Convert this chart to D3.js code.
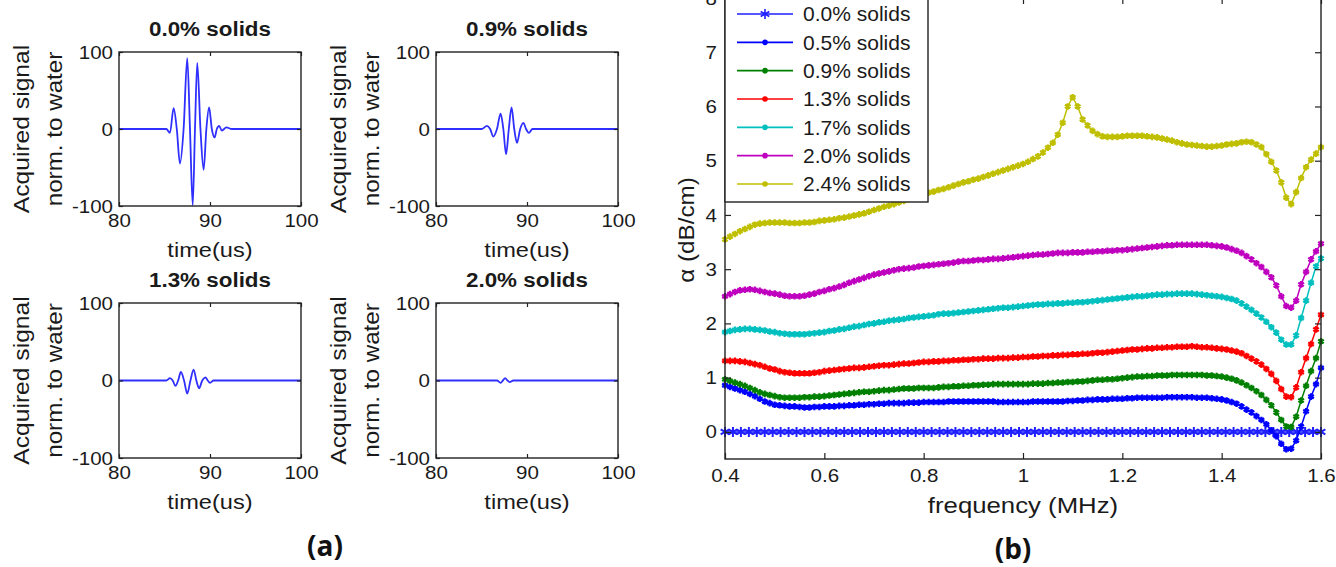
<!DOCTYPE html>
<html>
<head>
<meta charset="utf-8">
<script src="https://cdn.jsdelivr.net/npm/d3@7"></script>
<style>
  body { margin: 0; background: #fff; }
  svg { display: block; font-family: "Liberation Sans", Arial, sans-serif; }
</style>
</head>
<body>
<div id="chart"></div>
<script>
// ---------- panel (a): acquired signal normalised to water ----------
const waveTitles = ["0.0% solids", "0.9% solids", "1.3% solids", "2.0% solids"];
const waveXTicks = [80, 90, 100];
const waveYTicks = [-100, 0, 100];

const waveTime00 = [80, 85.2, 85.6, 86.0, 86.35, 86.7, 87.1, 87.5, 87.8, 88.1, 88.35, 88.6, 88.95, 89.3, 89.6, 89.9, 90.2, 90.5, 90.75, 91.0, 91.3, 91.8, 92.4, 100];
const waveSig00  = [0, 0, -5, 27, 0, -45, 0, 92, 0, -99, 0, 86, 0, -53, 0, 28, 0, -11, 0, 4, -2, 2, 0, 0];

const waveTime09 = [80, 85.05, 85.6, 85.95, 86.3, 86.7, 87.1, 87.4, 87.7, 88.0, 88.3, 88.6, 88.9, 89.25, 89.6, 89.9, 90.2, 90.6, 100];
const waveSig09  = [0, 0, 4, 0, -10, 0, 20, 0, -33, 0, 28, 0, -18, 0, 8, 0, -5, 0, 0];

const waveTime13 = [80, 85.2, 85.6, 85.9, 86.2, 86.5, 86.8, 87.15, 87.5, 87.85, 88.2, 88.5, 88.8, 89.15, 89.5, 89.75, 90.0, 90.4, 100];
const waveSig13  = [0, 0, 3, 0, -7, 0, 11, 0, -17, 0, 14, 0, -10, 0, 4, 0, -3, 0, 0];

const waveTime20 = [80, 86.7, 87.1, 87.35, 87.6, 87.85, 88.1, 88.5, 100];
const waveSig20  = [0, 0, -3, 0, 3, 0, -2, 0, 0];

// ---------- panel (b): attenuation vs frequency ----------
const seriesLabels = ["0.0% solids", "0.5% solids", "0.9% solids", "1.3% solids", "1.7% solids", "2.0% solids", "2.4% solids"];
const freqTicks = [0.4, 0.6, 0.8, 1, 1.2, 1.4, 1.6];
const alphaTicks = [0, 1, 2, 3, 4, 5, 6, 7, 8];

const freq = [
  0.40, 0.41, 0.42, 0.43, 0.44, 0.45, 0.46, 0.47, 0.48, 0.49,
  0.50, 0.51, 0.52, 0.53, 0.54, 0.55, 0.56, 0.57, 0.58, 0.59,
  0.60, 0.61, 0.62, 0.63, 0.64, 0.65, 0.66, 0.67, 0.68, 0.69,
  0.70, 0.71, 0.72, 0.73, 0.74, 0.75, 0.76, 0.77, 0.78, 0.79,
  0.80, 0.81, 0.82, 0.83, 0.84, 0.85, 0.86, 0.87, 0.88, 0.89,
  0.90, 0.91, 0.92, 0.93, 0.94, 0.95, 0.96, 0.97, 0.98, 0.99,
  1.00, 1.01, 1.02, 1.03, 1.04, 1.05, 1.06, 1.07, 1.08, 1.09,
  1.10, 1.11, 1.12, 1.13, 1.14, 1.15, 1.16, 1.17, 1.18, 1.19,
  1.20, 1.21, 1.22, 1.23, 1.24, 1.25, 1.26, 1.27, 1.28, 1.29,
  1.30, 1.31, 1.32, 1.33, 1.34, 1.35, 1.36, 1.37, 1.38, 1.39,
  1.40, 1.41, 1.42, 1.43, 1.44, 1.45, 1.46, 1.47, 1.48, 1.49,
  1.50, 1.51, 1.52, 1.53, 1.54, 1.55, 1.56, 1.57, 1.58, 1.59,
  1.60];

// the 0.0% curve was sampled on a coarser grid
const freq00 = [
  0.400, 0.416, 0.432, 0.448, 0.464, 0.480, 0.496, 0.512, 0.528, 0.544,
  0.560, 0.576, 0.592, 0.608, 0.624, 0.640, 0.656, 0.672, 0.688, 0.704,
  0.720, 0.736, 0.752, 0.768, 0.784, 0.800, 0.816, 0.832, 0.848, 0.864,
  0.880, 0.896, 0.912, 0.928, 0.944, 0.960, 0.976, 0.992, 1.008, 1.024,
  1.040, 1.056, 1.072, 1.088, 1.104, 1.120, 1.136, 1.152, 1.168, 1.184,
  1.200, 1.216, 1.232, 1.248, 1.264, 1.280, 1.296, 1.312, 1.328, 1.344,
  1.360, 1.376, 1.392, 1.408, 1.424, 1.440, 1.456, 1.472, 1.488, 1.504,
  1.520, 1.536, 1.552, 1.568, 1.584, 1.600];
const alpha00 = [
  0, 0, 0, 0, 0, 0, 0, 0, 0, 0,
  0, 0, 0, 0, 0, 0, 0, 0, 0, 0,
  0, 0, 0, 0, 0, 0, 0, 0, 0, 0,
  0, 0, 0, 0, 0, 0, 0, 0, 0, 0,
  0, 0, 0, 0, 0, 0, 0, 0, 0, 0,
  0, 0, 0, 0, 0, 0, 0, 0, 0, 0,
  0, 0, 0, 0, 0, 0, 0, 0, 0, 0,
  0, 0, 0, 0, 0, 0];

const alpha05 = [
  0.86, 0.83, 0.80, 0.77, 0.74, 0.70, 0.66, 0.61, 0.56, 0.53,
  0.50, 0.49, 0.48, 0.47, 0.47, 0.46, 0.45, 0.45, 0.46, 0.46,
  0.47, 0.47, 0.47, 0.48, 0.48, 0.49, 0.49, 0.50, 0.50, 0.51,
  0.51, 0.52, 0.52, 0.53, 0.53, 0.53, 0.53, 0.54, 0.54, 0.54,
  0.55, 0.55, 0.55, 0.55, 0.55, 0.56, 0.56, 0.56, 0.56, 0.56,
  0.56, 0.56, 0.56, 0.56, 0.56, 0.55, 0.55, 0.55, 0.55, 0.55,
  0.55, 0.55, 0.56, 0.56, 0.56, 0.56, 0.56, 0.56, 0.56, 0.57,
  0.57, 0.58, 0.58, 0.59, 0.59, 0.60, 0.60, 0.60, 0.61, 0.61,
  0.61, 0.62, 0.62, 0.63, 0.63, 0.63, 0.63, 0.63, 0.63, 0.64,
  0.64, 0.64, 0.64, 0.64, 0.64, 0.63, 0.63, 0.63, 0.62, 0.61,
  0.60, 0.58, 0.55, 0.52, 0.47, 0.41, 0.36, 0.29, 0.22, 0.14,
  0.03, -0.08, -0.22, -0.32, -0.31, -0.16, 0.10, 0.38, 0.65, 0.88,
  1.18];

const alpha09 = [
  0.97, 0.94, 0.91, 0.88, 0.85, 0.81, 0.77, 0.73, 0.70, 0.68,
  0.66, 0.64, 0.63, 0.63, 0.63, 0.63, 0.64, 0.64, 0.65, 0.65,
  0.66, 0.67, 0.68, 0.69, 0.70, 0.71, 0.72, 0.73, 0.74, 0.74,
  0.75, 0.76, 0.77, 0.77, 0.78, 0.79, 0.80, 0.80, 0.80, 0.81,
  0.81, 0.81, 0.81, 0.82, 0.83, 0.83, 0.84, 0.84, 0.85, 0.85,
  0.86, 0.86, 0.87, 0.87, 0.88, 0.88, 0.88, 0.88, 0.88, 0.88,
  0.88, 0.88, 0.89, 0.89, 0.89, 0.90, 0.90, 0.91, 0.91, 0.92,
  0.92, 0.93, 0.93, 0.94, 0.95, 0.96, 0.96, 0.97, 0.97, 0.98,
  0.99, 1.00, 1.01, 1.02, 1.02, 1.03, 1.03, 1.04, 1.04, 1.04,
  1.05, 1.05, 1.05, 1.05, 1.05, 1.05, 1.05, 1.04, 1.04, 1.03,
  1.02, 1.00, 0.98, 0.95, 0.91, 0.86, 0.81, 0.75, 0.68, 0.59,
  0.49, 0.36, 0.22, 0.10, 0.09, 0.28, 0.58, 0.85, 1.12, 1.36,
  1.67];

const alpha13 = [
  1.31, 1.31, 1.31, 1.30, 1.29, 1.27, 1.25, 1.23, 1.20, 1.17,
  1.15, 1.12, 1.10, 1.09, 1.08, 1.08, 1.08, 1.08, 1.09, 1.10,
  1.12, 1.13, 1.14, 1.15, 1.16, 1.17, 1.18, 1.18, 1.19, 1.20,
  1.21, 1.22, 1.23, 1.23, 1.24, 1.25, 1.26, 1.26, 1.27, 1.28,
  1.29, 1.29, 1.30, 1.30, 1.31, 1.31, 1.32, 1.32, 1.33, 1.33,
  1.34, 1.34, 1.35, 1.35, 1.35, 1.36, 1.36, 1.36, 1.37, 1.37,
  1.38, 1.38, 1.39, 1.39, 1.40, 1.40, 1.41, 1.41, 1.42, 1.42,
  1.43, 1.43, 1.44, 1.44, 1.45, 1.46, 1.46, 1.47, 1.48, 1.49,
  1.50, 1.51, 1.52, 1.52, 1.53, 1.54, 1.54, 1.55, 1.55, 1.56,
  1.56, 1.57, 1.57, 1.57, 1.58, 1.57, 1.56, 1.56, 1.55, 1.54,
  1.53, 1.52, 1.50, 1.48, 1.45, 1.40, 1.35, 1.30, 1.24, 1.16,
  1.07, 0.94, 0.79, 0.65, 0.64, 0.82, 1.10, 1.36, 1.62, 1.89,
  2.16];

const alpha17 = [
  1.84, 1.86, 1.88, 1.89, 1.90, 1.90, 1.89, 1.88, 1.87, 1.85,
  1.84, 1.82, 1.81, 1.80, 1.80, 1.80, 1.80, 1.81, 1.82, 1.83,
  1.84, 1.86, 1.87, 1.89, 1.90, 1.92, 1.94, 1.95, 1.97, 1.99,
  2.00, 2.02, 2.03, 2.05, 2.06, 2.07, 2.08, 2.10, 2.11, 2.12,
  2.13, 2.14, 2.15, 2.17, 2.18, 2.18, 2.19, 2.20, 2.21, 2.22,
  2.23, 2.24, 2.25, 2.26, 2.27, 2.28, 2.29, 2.29, 2.30, 2.31,
  2.32, 2.33, 2.34, 2.35, 2.35, 2.36, 2.36, 2.37, 2.37, 2.38,
  2.38, 2.39, 2.39, 2.40, 2.41, 2.42, 2.43, 2.44, 2.45, 2.46,
  2.47, 2.48, 2.49, 2.50, 2.50, 2.51, 2.52, 2.53, 2.53, 2.54,
  2.54, 2.55, 2.55, 2.55, 2.55, 2.54, 2.53, 2.52, 2.51, 2.50,
  2.49, 2.47, 2.45, 2.42, 2.37, 2.31, 2.25, 2.18, 2.11, 2.03,
  1.93, 1.83, 1.70, 1.61, 1.61, 1.78, 2.10, 2.42, 2.75, 3.05,
  3.20];

const alpha20 = [
  2.50, 2.54, 2.58, 2.61, 2.62, 2.63, 2.62, 2.60, 2.58, 2.56,
  2.55, 2.53, 2.51, 2.50, 2.50, 2.50, 2.51, 2.53, 2.55, 2.58,
  2.60, 2.63, 2.65, 2.68, 2.71, 2.75, 2.78, 2.81, 2.84, 2.87,
  2.90, 2.92, 2.94, 2.96, 2.98, 3.00, 3.01, 3.02, 3.03, 3.05,
  3.06, 3.07, 3.08, 3.09, 3.10, 3.11, 3.12, 3.14, 3.15, 3.15,
  3.16, 3.17, 3.17, 3.18, 3.19, 3.19, 3.20, 3.21, 3.22, 3.23,
  3.24, 3.25, 3.26, 3.27, 3.27, 3.28, 3.29, 3.30, 3.30, 3.30,
  3.31, 3.31, 3.31, 3.32, 3.32, 3.33, 3.33, 3.34, 3.34, 3.35,
  3.35, 3.36, 3.37, 3.38, 3.39, 3.40, 3.41, 3.42, 3.43, 3.44,
  3.44, 3.45, 3.45, 3.45, 3.45, 3.45, 3.45, 3.45, 3.44, 3.43,
  3.42, 3.40, 3.37, 3.34, 3.30, 3.24, 3.18, 3.11, 3.04, 2.95,
  2.85, 2.70, 2.50, 2.32, 2.29, 2.42, 2.72, 2.95, 3.18, 3.33,
  3.47];

const alpha24 = [
  3.55, 3.60, 3.65, 3.70, 3.74, 3.78, 3.82, 3.84, 3.85, 3.86,
  3.86, 3.86, 3.86, 3.85, 3.85, 3.85, 3.86, 3.86, 3.87, 3.89,
  3.90, 3.91, 3.92, 3.94, 3.95, 3.97, 3.99, 4.01, 4.03, 4.06,
  4.09, 4.12, 4.15, 4.17, 4.20, 4.23, 4.26, 4.29, 4.32, 4.35,
  4.38, 4.41, 4.43, 4.46, 4.48, 4.51, 4.54, 4.57, 4.60, 4.62,
  4.65, 4.67, 4.70, 4.73, 4.76, 4.79, 4.82, 4.85, 4.88, 4.91,
  4.94, 4.98, 5.03, 5.08, 5.15, 5.24, 5.33, 5.48, 5.70, 6.00,
  6.17, 6.00, 5.76, 5.65, 5.55, 5.49, 5.45, 5.44, 5.44, 5.44,
  5.45, 5.46, 5.46, 5.46, 5.46, 5.45, 5.44, 5.43, 5.41, 5.39,
  5.37, 5.34, 5.32, 5.30, 5.29, 5.28, 5.27, 5.26, 5.26, 5.27,
  5.28, 5.30, 5.31, 5.32, 5.34, 5.35, 5.34, 5.30, 5.25, 5.12,
  4.98, 4.82, 4.60, 4.32, 4.20, 4.42, 4.68, 4.88, 5.02, 5.13,
  5.25];

// ---------- drawing ----------
const textColor = "#1a1a1a";
const boxColor = "#222";

const svg = d3.select("#chart")
  .append("svg")
  .attr("width", 1336)
  .attr("height", 567);

// widen text along its own direction (the original font runs wide)
function stretch(sel, k) {
  sel.each(function () {
    const w = this.getComputedTextLength();
    d3.select(this).attr("textLength", w * k).attr("lengthAdjust", "spacingAndGlyphs");
  });
}

// draws inward ticks on all four sides and a frame, labels only bottom/left
function drawFrame(g, x, y, xTicks, yTicks, opts) {
  const [x0, x1] = x.range();
  const [y1, y0] = y.range();

  const fmt = d => String(d);

  const bottom = g.append("g")
    .attr("transform", `translate(0,${y1})`)
    .call(d3.axisBottom(x).tickValues(xTicks).tickSize(-opts.tick).tickPadding(opts.padX).tickFormat(fmt));
  const left = g.append("g")
    .attr("transform", `translate(${x0},0)`)
    .call(d3.axisLeft(y).tickValues(yTicks).tickSize(-opts.tick).tickPadding(opts.padY).tickFormat(fmt));
  g.append("g")
    .attr("transform", `translate(0,${y0})`)
    .call(d3.axisTop(x).tickValues(xTicks).tickSize(-opts.tick).tickFormat(""));
  g.append("g")
    .attr("transform", `translate(${x1},0)`)
    .call(d3.axisRight(y).tickValues(yTicks).tickSize(-opts.tick).tickFormat(""));

  g.selectAll(".domain").remove();
  g.selectAll(".tick line").attr("stroke", boxColor).attr("stroke-width", 1.2);

  [bottom, left].forEach(a => {
    a.selectAll("text")
      .attr("fill", textColor)
      .style("font-size", opts.font + "px")
      .style("font-family", '"Liberation Sans", Arial, sans-serif');
    stretch(a.selectAll("text"), 1.08);
  });

  g.append("rect")
    .attr("x", x0).attr("y", y0)
    .attr("width", x1 - x0).attr("height", y1 - y0)
    .attr("fill", "none")
    .attr("stroke", boxColor)
    .attr("stroke-width", 1.4);
}

// ---- panel (a) ----
const waveData = [
  { title: waveTitles[0], t: waveTime00, s: waveSig00 },
  { title: waveTitles[1], t: waveTime09, s: waveSig09 },
  { title: waveTitles[2], t: waveTime13, s: waveSig13 },
  { title: waveTitles[3], t: waveTime20, s: waveSig20 }
];
const waveBoxes = [
  { x0: 119, x1: 301, y0: 52, y1: 206 },
  { x0: 436, x1: 618, y0: 52, y1: 206 },
  { x0: 119, x1: 301, y0: 303, y1: 458 },
  { x0: 436, x1: 618, y0: 303, y1: 458 }
];

waveData.forEach((d, i) => {
  const b = waveBoxes[i];
  const g = svg.append("g");

  const x = d3.scaleLinear().domain([80, 100]).range([b.x0, b.x1]);
  const y = d3.scaleLinear().domain([-100, 100]).range([b.y1, b.y0]);

  const pts = d.t.map((t, j) => [t, d.s[j]]);
  g.append("path")
    .datum(pts)
    .attr("fill", "none")
    .attr("stroke", "#2f2fff")
    .attr("stroke-width", 1.8)
    .attr("d", d3.line().x(p => x(p[0])).y(p => y(p[1])).curve(d3.curveMonotoneX));

  drawFrame(g, x, y, waveXTicks, waveYTicks, { tick: 4, padX: 8, padY: 6, font: 19 });

  const cx = (b.x0 + b.x1) / 2;
  const cy = (b.y0 + b.y1) / 2;

  // title
  const title = g.append("text")
    .attr("x", cx).attr("y", b.y0 - 16)
    .attr("text-anchor", "middle")
    .attr("fill", textColor)
    .style("font-size", "20px")
    .style("font-weight", "bold")
    .text(d.title);
  stretch(title, 1.12);

  // x label
  const xl = g.append("text")
    .attr("x", cx).attr("y", b.y1 + 51)
    .attr("text-anchor", "middle")
    .attr("fill", textColor)
    .style("font-size", "20px")
    .text("time(us)");
  stretch(xl, 1.18);

  // two-line y label
  const yl1 = g.append("text")
    .attr("transform", `translate(${b.x0 - 90},${cy}) rotate(-90)`)
    .attr("text-anchor", "middle")
    .attr("fill", textColor)
    .style("font-size", "22px")
    .text("Acquired signal");
  const yl2 = g.append("text")
    .attr("transform", `translate(${b.x0 - 57},${cy}) rotate(-90)`)
    .attr("text-anchor", "middle")
    .attr("fill", textColor)
    .style("font-size", "22px")
    .text("norm. to water");
  stretch(yl1, 1.12);
  stretch(yl2, 1.1);
});

// ---- panel (b) ----
const bBox = { x0: 725, x1: 1321, y0: -2, y1: 459 };
const x = d3.scaleLinear().domain([0.4, 1.6]).range([bBox.x0, bBox.x1]);
const y = d3.scaleLinear().domain([-0.5, 8]).range([bBox.y1, bBox.y0]);

const colors = ["#1f1fff", "#0000ff", "#008000", "#ff0000", "#00bfbf", "#bf00bf", "#bfbf00"];
const attenSeries = [
  { f: freq00, a: alpha00 },
  { f: freq, a: alpha05 },
  { f: freq, a: alpha09 },
  { f: freq, a: alpha13 },
  { f: freq, a: alpha17 },
  { f: freq, a: alpha20 },
  { f: freq, a: alpha24 }
];

const gb = svg.append("g");
const line = d3.line().x(p => x(p[0])).y(p => y(p[1]));
const starBig = d3.symbol(d3.symbolAsterisk, 70)();
const starSmall = d3.symbol(d3.symbolAsterisk, 30)();

attenSeries.forEach((s, i) => {
  const pts = s.f.map((f, j) => [f, s.a[j]]);
  const sg = gb.append("g");
  sg.append("path")
    .datum(pts)
    .attr("fill", "none")
    .attr("stroke", colors[i])
    .attr("stroke-width", 1.5)
    .attr("d", line);
  sg.selectAll("path.mk")
    .data(pts)
    .join("path")
    .attr("class", "mk")
    .attr("transform", p => `translate(${x(p[0])},${y(p[1])})`)
    .attr("d", i === 0 ? starBig : starSmall)
    .attr("fill", "none")
    .attr("stroke", colors[i])
    .attr("stroke-width", i === 0 ? 2 : 2.3);
});

drawFrame(gb, x, y, freqTicks, alphaTicks, { tick: 6, padX: 10, padY: 8, font: 19 });

// axis labels
const fl = gb.append("text")
  .attr("x", (bBox.x0 + bBox.x1) / 2).attr("y", 513)
  .attr("text-anchor", "middle")
  .attr("fill", textColor)
  .style("font-size", "22px")
  .text("frequency (MHz)");
stretch(fl, 1.17);

const al = gb.append("text")
  .attr("transform", `translate(694,230) rotate(-90)`)
  .attr("text-anchor", "middle")
  .attr("fill", textColor)
  .style("font-size", "22px")
  .text("α (dB/cm)");
stretch(al, 1.1);

// legend
const lg = gb.append("g");
lg.append("rect")
  .attr("x", 725).attr("y", -1)
  .attr("width", 203).attr("height", 203)
  .attr("fill", "#fff")
  .attr("stroke", boxColor)
  .attr("stroke-width", 1.4);

const legendRow = d3.scalePoint().domain(seriesLabels).range([14, 184]);
seriesLabels.forEach((label, i) => {
  const ry = legendRow(label);
  lg.append("line")
    .attr("x1", 737).attr("x2", 793)
    .attr("y1", ry).attr("y2", ry)
    .attr("stroke", colors[i])
    .attr("stroke-width", 1.6);
  if (i === 0) {
    lg.append("path")
      .attr("transform", `translate(765,${ry})`)
      .attr("d", starBig)
      .attr("fill", "none")
      .attr("stroke", colors[i])
      .attr("stroke-width", 1.6);
  } else {
    lg.append("circle")
      .attr("cx", 765).attr("cy", ry).attr("r", 2.8)
      .attr("fill", colors[i]);
  }
  lg.append("text")
    .attr("x", 803).attr("y", ry)
    .attr("dy", "0.35em")
    .attr("fill", textColor)
    .style("font-size", "21px")
    .text(label);
});

// panel letters
svg.append("text")
  .attr("x", 325).attr("y", 556)
  .attr("text-anchor", "middle")
  .attr("fill", "#111")
  .style("font-family", '"Open Sans", sans-serif')
  .style("font-weight", "bold")
  .style("font-size", "28px")
  .text("(a)");
svg.append("text")
  .attr("x", 1013).attr("y", 559)
  .attr("text-anchor", "middle")
  .attr("fill", "#111")
  .style("font-family", '"Open Sans", sans-serif')
  .style("font-weight", "bold")
  .style("font-size", "28px")
  .text("(b)");
</script>
</body>
</html>
